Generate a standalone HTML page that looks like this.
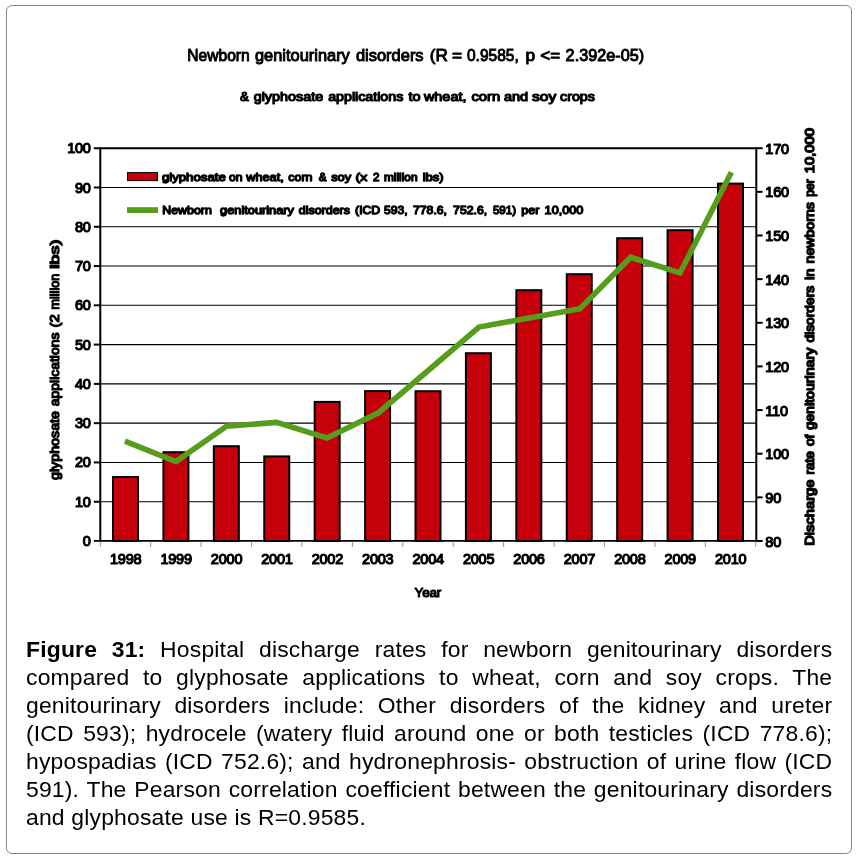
<!DOCTYPE html>
<html><head><meta charset="utf-8"><title>Figure 31</title>
<style>
html,body{margin:0;padding:0;background:#fff;}
body{width:857px;height:860px;position:relative;overflow:hidden;font-family:"Liberation Sans",sans-serif;}
#frame{position:absolute;left:6px;top:5px;width:844px;height:847px;border:1px solid #85878a;border-radius:6px;box-sizing:content-box;}
#chart{position:absolute;left:0;top:0;will-change:transform;}
#chart text{font-family:"Liberation Sans",sans-serif;fill:#000;stroke:#000;stroke-width:1.2px;stroke-linejoin:round;}
#cap{position:absolute;left:25.7px;top:635.0px;width:806.3px;font-size:22.9px;line-height:28px;color:#000;text-align:justify;margin:0;letter-spacing:0.19px;will-change:transform;}
#cap div{height:28px;white-space:nowrap;text-align:justify;text-align-last:justify;}
#cap div.last{text-align:left;text-align-last:left;}
#cap b{font-weight:bold;}
</style></head><body>
<div id="frame"></div>
<svg id="chart" width="857" height="620" viewBox="0 0 857 620">

<line x1="100.3" x2="756.3" y1="501.72" y2="501.72" stroke="#000" stroke-width="1.1"/>
<line x1="100.3" x2="756.3" y1="462.44" y2="462.44" stroke="#000" stroke-width="1.1"/>
<line x1="100.3" x2="756.3" y1="423.16" y2="423.16" stroke="#000" stroke-width="1.1"/>
<line x1="100.3" x2="756.3" y1="383.88" y2="383.88" stroke="#000" stroke-width="1.1"/>
<line x1="100.3" x2="756.3" y1="344.60" y2="344.60" stroke="#000" stroke-width="1.1"/>
<line x1="100.3" x2="756.3" y1="305.32" y2="305.32" stroke="#000" stroke-width="1.1"/>
<line x1="100.3" x2="756.3" y1="266.04" y2="266.04" stroke="#000" stroke-width="1.1"/>
<line x1="100.3" x2="756.3" y1="226.76" y2="226.76" stroke="#000" stroke-width="1.1"/>
<line x1="100.3" x2="756.3" y1="187.48" y2="187.48" stroke="#000" stroke-width="1.1"/>
<rect x="113.01" y="477.05" width="25.00" height="63.95" fill="#c5000b" stroke="#000" stroke-width="2.0"/>
<rect x="163.42" y="452.20" width="25.00" height="88.80" fill="#c5000b" stroke="#000" stroke-width="2.0"/>
<rect x="213.84" y="446.20" width="25.00" height="94.80" fill="#c5000b" stroke="#000" stroke-width="2.0"/>
<rect x="264.25" y="456.40" width="25.00" height="84.60" fill="#c5000b" stroke="#000" stroke-width="2.0"/>
<rect x="314.67" y="401.90" width="25.00" height="139.10" fill="#c5000b" stroke="#000" stroke-width="2.0"/>
<rect x="365.08" y="391.10" width="25.00" height="149.90" fill="#c5000b" stroke="#000" stroke-width="2.0"/>
<rect x="415.50" y="391.20" width="25.00" height="149.80" fill="#c5000b" stroke="#000" stroke-width="2.0"/>
<rect x="465.92" y="353.20" width="25.00" height="187.80" fill="#c5000b" stroke="#000" stroke-width="2.0"/>
<rect x="516.33" y="290.20" width="25.00" height="250.80" fill="#c5000b" stroke="#000" stroke-width="2.0"/>
<rect x="566.75" y="274.20" width="25.00" height="266.80" fill="#c5000b" stroke="#000" stroke-width="2.0"/>
<rect x="617.16" y="238.20" width="25.00" height="302.80" fill="#c5000b" stroke="#000" stroke-width="2.0"/>
<rect x="667.58" y="230.20" width="25.00" height="310.80" fill="#c5000b" stroke="#000" stroke-width="2.0"/>
<rect x="717.99" y="183.60" width="25.00" height="357.40" fill="#c5000b" stroke="#000" stroke-width="2.0"/>
<line x1="93.8" x2="756.3" y1="148.2" y2="148.2" stroke="#000" stroke-width="2"/>
<line x1="93.8" x2="756.3" y1="540.9" y2="540.9" stroke="#000" stroke-width="1.7"/>
<line x1="100.3" x2="100.3" y1="147.2" y2="541.8" stroke="#000" stroke-width="2"/>
<line x1="756.3" x2="756.3" y1="147.2" y2="541.8" stroke="#000" stroke-width="2"/>
<line x1="93.8" x2="100.3" y1="501.72" y2="501.72" stroke="#000" stroke-width="2"/>
<line x1="93.8" x2="100.3" y1="462.44" y2="462.44" stroke="#000" stroke-width="2"/>
<line x1="93.8" x2="100.3" y1="423.16" y2="423.16" stroke="#000" stroke-width="2"/>
<line x1="93.8" x2="100.3" y1="383.88" y2="383.88" stroke="#000" stroke-width="2"/>
<line x1="93.8" x2="100.3" y1="344.60" y2="344.60" stroke="#000" stroke-width="2"/>
<line x1="93.8" x2="100.3" y1="305.32" y2="305.32" stroke="#000" stroke-width="2"/>
<line x1="93.8" x2="100.3" y1="266.04" y2="266.04" stroke="#000" stroke-width="2"/>
<line x1="93.8" x2="100.3" y1="226.76" y2="226.76" stroke="#000" stroke-width="2"/>
<line x1="93.8" x2="100.3" y1="187.48" y2="187.48" stroke="#000" stroke-width="2"/>
<line x1="756.3" x2="762.5999999999999" y1="148.20" y2="148.20" stroke="#000" stroke-width="2"/>
<line x1="756.3" x2="762.5999999999999" y1="191.84" y2="191.84" stroke="#000" stroke-width="2"/>
<line x1="756.3" x2="762.5999999999999" y1="235.49" y2="235.49" stroke="#000" stroke-width="2"/>
<line x1="756.3" x2="762.5999999999999" y1="279.13" y2="279.13" stroke="#000" stroke-width="2"/>
<line x1="756.3" x2="762.5999999999999" y1="322.78" y2="322.78" stroke="#000" stroke-width="2"/>
<line x1="756.3" x2="762.5999999999999" y1="366.42" y2="366.42" stroke="#000" stroke-width="2"/>
<line x1="756.3" x2="762.5999999999999" y1="410.07" y2="410.07" stroke="#000" stroke-width="2"/>
<line x1="756.3" x2="762.5999999999999" y1="453.71" y2="453.71" stroke="#000" stroke-width="2"/>
<line x1="756.3" x2="762.5999999999999" y1="497.36" y2="497.36" stroke="#000" stroke-width="2"/>
<line x1="756.3" x2="762.5999999999999" y1="541.00" y2="541.00" stroke="#000" stroke-width="2"/>
<line x1="100.30" x2="100.30" y1="541.8" y2="547.0" stroke="#9a9a9a" stroke-width="1.1"/>
<line x1="150.72" x2="150.72" y1="541.8" y2="547.0" stroke="#9a9a9a" stroke-width="1.1"/>
<line x1="201.13" x2="201.13" y1="541.8" y2="547.0" stroke="#9a9a9a" stroke-width="1.1"/>
<line x1="251.55" x2="251.55" y1="541.8" y2="547.0" stroke="#9a9a9a" stroke-width="1.1"/>
<line x1="301.96" x2="301.96" y1="541.8" y2="547.0" stroke="#9a9a9a" stroke-width="1.1"/>
<line x1="352.38" x2="352.38" y1="541.8" y2="547.0" stroke="#9a9a9a" stroke-width="1.1"/>
<line x1="402.79" x2="402.79" y1="541.8" y2="547.0" stroke="#9a9a9a" stroke-width="1.1"/>
<line x1="453.21" x2="453.21" y1="541.8" y2="547.0" stroke="#9a9a9a" stroke-width="1.1"/>
<line x1="503.62" x2="503.62" y1="541.8" y2="547.0" stroke="#9a9a9a" stroke-width="1.1"/>
<line x1="554.04" x2="554.04" y1="541.8" y2="547.0" stroke="#9a9a9a" stroke-width="1.1"/>
<line x1="604.45" x2="604.45" y1="541.8" y2="547.0" stroke="#9a9a9a" stroke-width="1.1"/>
<line x1="654.87" x2="654.87" y1="541.8" y2="547.0" stroke="#9a9a9a" stroke-width="1.1"/>
<line x1="705.28" x2="705.28" y1="541.8" y2="547.0" stroke="#9a9a9a" stroke-width="1.1"/>
<line x1="755.70" x2="755.70" y1="541.8" y2="547.0" stroke="#9a9a9a" stroke-width="1.1"/>
<polyline points="124.9,441.2 175.9,461.6 226.6,426.2 276.6,422.4 326.9,437.9 378.0,413.1 428.2,370.5 479.0,327.0 529.2,318.0 580.0,308.7 630.6,257.3 680.0,272.9 731.4,172.3" fill="none" stroke="#579d1c" stroke-width="5.6" stroke-linejoin="miter" stroke-linecap="butt"/>
<rect x="127.5" y="172.6" width="30" height="8" fill="#c5000b" stroke="#000" stroke-width="1"/>
<rect x="127" y="207.2" width="31" height="5.8" fill="#579d1c"/>
<text x="161.90" y="181.4" font-size="11.6" textLength="63.90" lengthAdjust="spacingAndGlyphs" style="stroke-width:1.3px">glyphosate</text>
<text x="229.10" y="181.4" font-size="11.6" textLength="13.50" lengthAdjust="spacingAndGlyphs" style="stroke-width:1.3px">on</text>
<text x="246.30" y="181.4" font-size="11.6" textLength="37.40" lengthAdjust="spacingAndGlyphs" style="stroke-width:1.3px">wheat,</text>
<text x="288.30" y="181.4" font-size="11.6" textLength="24.20" lengthAdjust="spacingAndGlyphs" style="stroke-width:1.3px">corn</text>
<text x="322.55" y="181.4" font-size="11.6" text-anchor="middle" style="stroke-width:1.3px">&amp;</text>
<text x="331.20" y="181.4" font-size="11.6" textLength="20.00" lengthAdjust="spacingAndGlyphs" style="stroke-width:1.3px">soy</text>
<text x="355.50" y="181.4" font-size="11.6" textLength="11.60" lengthAdjust="spacingAndGlyphs" style="stroke-width:1.3px">(x</text>
<text x="376.25" y="181.4" font-size="11.6" text-anchor="middle" style="stroke-width:1.3px">2</text>
<text x="384.00" y="181.4" font-size="11.6" textLength="33.50" lengthAdjust="spacingAndGlyphs" style="stroke-width:1.3px">million</text>
<text x="422.70" y="181.4" font-size="11.6" textLength="20.90" lengthAdjust="spacingAndGlyphs" style="stroke-width:1.3px">lbs)</text>
<text x="162.30" y="214.1" font-size="11.6" textLength="49.50" lengthAdjust="spacingAndGlyphs" style="stroke-width:1.3px">Newborn</text>
<text x="220.10" y="214.1" font-size="11.6" textLength="73.90" lengthAdjust="spacingAndGlyphs" style="stroke-width:1.3px">genitourinary</text>
<text x="298.80" y="214.1" font-size="11.6" textLength="51.10" lengthAdjust="spacingAndGlyphs" style="stroke-width:1.3px">disorders</text>
<text x="355.10" y="214.1" font-size="11.6" textLength="25.10" lengthAdjust="spacingAndGlyphs" style="stroke-width:1.3px">(ICD</text>
<text x="384.10" y="214.1" font-size="11.6" textLength="23.40" lengthAdjust="spacingAndGlyphs" style="stroke-width:1.3px">593,</text>
<text x="413.00" y="214.1" font-size="11.6" textLength="34.00" lengthAdjust="spacingAndGlyphs" style="stroke-width:1.3px">778.6,</text>
<text x="453.10" y="214.1" font-size="11.6" textLength="34.00" lengthAdjust="spacingAndGlyphs" style="stroke-width:1.3px">752.6,</text>
<text x="492.90" y="214.1" font-size="11.6" textLength="23.20" lengthAdjust="spacingAndGlyphs" style="stroke-width:1.3px">591)</text>
<text x="521.30" y="214.1" font-size="11.6" textLength="18.10" lengthAdjust="spacingAndGlyphs" style="stroke-width:1.3px">per</text>
<text x="544.60" y="214.1" font-size="11.6" textLength="38.70" lengthAdjust="spacingAndGlyphs" style="stroke-width:1.3px">10,000</text>
<text x="187.30" y="61.2" font-size="17.3" textLength="62.40" lengthAdjust="spacingAndGlyphs" style="stroke-width:1.0px">Newborn</text>
<text x="255.00" y="61.2" font-size="17.3" textLength="94.80" lengthAdjust="spacingAndGlyphs" style="stroke-width:1.0px">genitourinary</text>
<text x="355.90" y="61.2" font-size="17.3" textLength="67.70" lengthAdjust="spacingAndGlyphs" style="stroke-width:1.0px">disorders</text>
<text x="429.70" y="61.2" font-size="17.3" textLength="18.10" lengthAdjust="spacingAndGlyphs" style="stroke-width:1.0px">(R</text>
<text x="456.95" y="61.2" font-size="17.3" text-anchor="middle" style="stroke-width:1.0px">=</text>
<text x="467.00" y="61.2" font-size="17.3" textLength="51.70" lengthAdjust="spacingAndGlyphs" style="stroke-width:1.0px">0.9585,</text>
<text x="530.30" y="61.2" font-size="17.3" text-anchor="middle" style="stroke-width:1.0px">p</text>
<text x="540.30" y="61.2" font-size="17.3" textLength="19.90" lengthAdjust="spacingAndGlyphs" style="stroke-width:1.0px">&lt;=</text>
<text x="565.60" y="61.2" font-size="17.3" textLength="78.60" lengthAdjust="spacingAndGlyphs" style="stroke-width:1.0px">2.392e-05)</text>
<text x="244.45" y="101.3" font-size="13.3" text-anchor="middle">&amp;</text>
<text x="253.70" y="101.3" font-size="13.3" textLength="69.50" lengthAdjust="spacingAndGlyphs">glyphosate</text>
<text x="328.20" y="101.3" font-size="13.3" textLength="75.10" lengthAdjust="spacingAndGlyphs">applications</text>
<text x="408.40" y="101.3" font-size="13.3" textLength="12.10" lengthAdjust="spacingAndGlyphs">to</text>
<text x="423.90" y="101.3" font-size="13.3" textLength="42.60" lengthAdjust="spacingAndGlyphs">wheat,</text>
<text x="471.40" y="101.3" font-size="13.3" textLength="28.80" lengthAdjust="spacingAndGlyphs">corn</text>
<text x="503.90" y="101.3" font-size="13.3" textLength="24.30" lengthAdjust="spacingAndGlyphs">and</text>
<text x="532.00" y="101.3" font-size="13.3" textLength="24.20" lengthAdjust="spacingAndGlyphs">soy</text>
<text x="560.00" y="101.3" font-size="13.3" textLength="34.90" lengthAdjust="spacingAndGlyphs">crops</text>
<text transform="translate(59.3,480.00) rotate(-90)" font-size="13.6" textLength="69.00" lengthAdjust="spacingAndGlyphs" style="stroke-width:1.3px">glyphosate</text>
<text transform="translate(59.3,406.20) rotate(-90)" font-size="13.6" textLength="73.60" lengthAdjust="spacingAndGlyphs" style="stroke-width:1.3px">applications</text>
<text transform="translate(59.3,327.50) rotate(-90)" font-size="13.6" textLength="13.20" lengthAdjust="spacingAndGlyphs" style="stroke-width:1.3px">(2</text>
<text transform="translate(59.3,309.50) rotate(-90)" font-size="13.6" textLength="35.70" lengthAdjust="spacingAndGlyphs" style="stroke-width:1.3px">million</text>
<text transform="translate(59.3,268.70) rotate(-90)" font-size="13.6" textLength="29.20" lengthAdjust="spacingAndGlyphs" style="stroke-width:1.3px">lbs)</text>
<text transform="translate(813.8,545.80) rotate(-90)" font-size="13.6" textLength="66.30" lengthAdjust="spacingAndGlyphs" style="stroke-width:1.5px">Discharge</text>
<text transform="translate(813.8,474.40) rotate(-90)" font-size="13.6" textLength="23.20" lengthAdjust="spacingAndGlyphs" style="stroke-width:1.5px">rate</text>
<text transform="translate(813.8,446.10) rotate(-90)" font-size="13.6" textLength="11.40" lengthAdjust="spacingAndGlyphs" style="stroke-width:1.5px">of</text>
<text transform="translate(813.8,429.70) rotate(-90)" font-size="13.6" textLength="82.00" lengthAdjust="spacingAndGlyphs" style="stroke-width:1.5px">genitourinary</text>
<text transform="translate(813.8,342.60) rotate(-90)" font-size="13.6" textLength="56.80" lengthAdjust="spacingAndGlyphs" style="stroke-width:1.5px">disorders</text>
<text transform="translate(813.8,279.90) rotate(-90)" font-size="13.6" textLength="11.40" lengthAdjust="spacingAndGlyphs" style="stroke-width:1.5px">in</text>
<text transform="translate(813.8,263.40) rotate(-90)" font-size="13.6" textLength="61.20" lengthAdjust="spacingAndGlyphs" style="stroke-width:1.5px">newborns</text>
<text transform="translate(813.8,196.80) rotate(-90)" font-size="13.6" textLength="17.60" lengthAdjust="spacingAndGlyphs" style="stroke-width:1.5px">per</text>
<text transform="translate(813.8,173.30) rotate(-90)" font-size="13.6" textLength="45.20" lengthAdjust="spacingAndGlyphs" style="stroke-width:1.5px">10,000</text>
<text x="90.6" y="546.05" font-size="14.5" text-anchor="end" letter-spacing="-0.3">0</text>
<text x="90.6" y="506.77" font-size="14.5" text-anchor="end" letter-spacing="-0.3">10</text>
<text x="90.6" y="467.49" font-size="14.5" text-anchor="end" letter-spacing="-0.3">20</text>
<text x="90.6" y="428.21" font-size="14.5" text-anchor="end" letter-spacing="-0.3">30</text>
<text x="90.6" y="388.93" font-size="14.5" text-anchor="end" letter-spacing="-0.3">40</text>
<text x="90.6" y="349.65" font-size="14.5" text-anchor="end" letter-spacing="-0.3">50</text>
<text x="90.6" y="310.37" font-size="14.5" text-anchor="end" letter-spacing="-0.3">60</text>
<text x="90.6" y="271.09" font-size="14.5" text-anchor="end" letter-spacing="-0.3">70</text>
<text x="90.6" y="231.81" font-size="14.5" text-anchor="end" letter-spacing="-0.3">80</text>
<text x="90.6" y="192.53" font-size="14.5" text-anchor="end" letter-spacing="-0.3">90</text>
<text x="90.6" y="153.25" font-size="14.5" text-anchor="end" letter-spacing="-0.3">100</text>
<text x="765.3" y="153.80" font-size="14.5" letter-spacing="-0.2">170</text>
<text x="765.3" y="197.44" font-size="14.5" letter-spacing="-0.2">160</text>
<text x="765.3" y="241.09" font-size="14.5" letter-spacing="-0.2">150</text>
<text x="765.3" y="284.73" font-size="14.5" letter-spacing="-0.2">140</text>
<text x="765.3" y="328.38" font-size="14.5" letter-spacing="-0.2">130</text>
<text x="765.3" y="372.02" font-size="14.5" letter-spacing="-0.2">120</text>
<text x="765.3" y="415.67" font-size="14.5" letter-spacing="-0.2">110</text>
<text x="765.3" y="459.31" font-size="14.5" letter-spacing="-0.2">100</text>
<text x="765.3" y="502.96" font-size="14.5" letter-spacing="-0.2">90</text>
<text x="765.3" y="546.60" font-size="14.5" letter-spacing="-0.2">80</text>
<text x="125.71" y="564.1" font-size="14.5" text-anchor="middle" letter-spacing="-0.2">1998</text>
<text x="176.12" y="564.1" font-size="14.5" text-anchor="middle" letter-spacing="-0.2">1999</text>
<text x="226.54" y="564.1" font-size="14.5" text-anchor="middle" letter-spacing="-0.2">2000</text>
<text x="276.95" y="564.1" font-size="14.5" text-anchor="middle" letter-spacing="-0.2">2001</text>
<text x="327.37" y="564.1" font-size="14.5" text-anchor="middle" letter-spacing="-0.2">2002</text>
<text x="377.78" y="564.1" font-size="14.5" text-anchor="middle" letter-spacing="-0.2">2003</text>
<text x="428.20" y="564.1" font-size="14.5" text-anchor="middle" letter-spacing="-0.2">2004</text>
<text x="478.62" y="564.1" font-size="14.5" text-anchor="middle" letter-spacing="-0.2">2005</text>
<text x="529.03" y="564.1" font-size="14.5" text-anchor="middle" letter-spacing="-0.2">2006</text>
<text x="579.45" y="564.1" font-size="14.5" text-anchor="middle" letter-spacing="-0.2">2007</text>
<text x="629.86" y="564.1" font-size="14.5" text-anchor="middle" letter-spacing="-0.2">2008</text>
<text x="680.28" y="564.1" font-size="14.5" text-anchor="middle" letter-spacing="-0.2">2009</text>
<text x="730.69" y="564.1" font-size="14.5" text-anchor="middle" letter-spacing="-0.2">2010</text>
<text x="427.9" y="597.0" font-size="13.4" text-anchor="middle" textLength="26.6" lengthAdjust="spacing">Year</text>
</svg>
<div id="cap">
<div><b>Figure 31:</b> Hospital discharge rates for newborn genitourinary disorders</div>
<div>compared to glyphosate applications to wheat, corn and soy crops. The</div>
<div>genitourinary disorders include: Other disorders of the kidney and ureter</div>
<div>(ICD 593); hydrocele (watery fluid around one or both testicles (ICD 778.6);</div>
<div>hypospadias (ICD 752.6); and hydronephrosis- obstruction of urine flow (ICD</div>
<div>591). The Pearson correlation coefficient between the genitourinary disorders</div>
<div class="last">and glyphosate use is R=0.9585.</div>
</div>
</body></html>
